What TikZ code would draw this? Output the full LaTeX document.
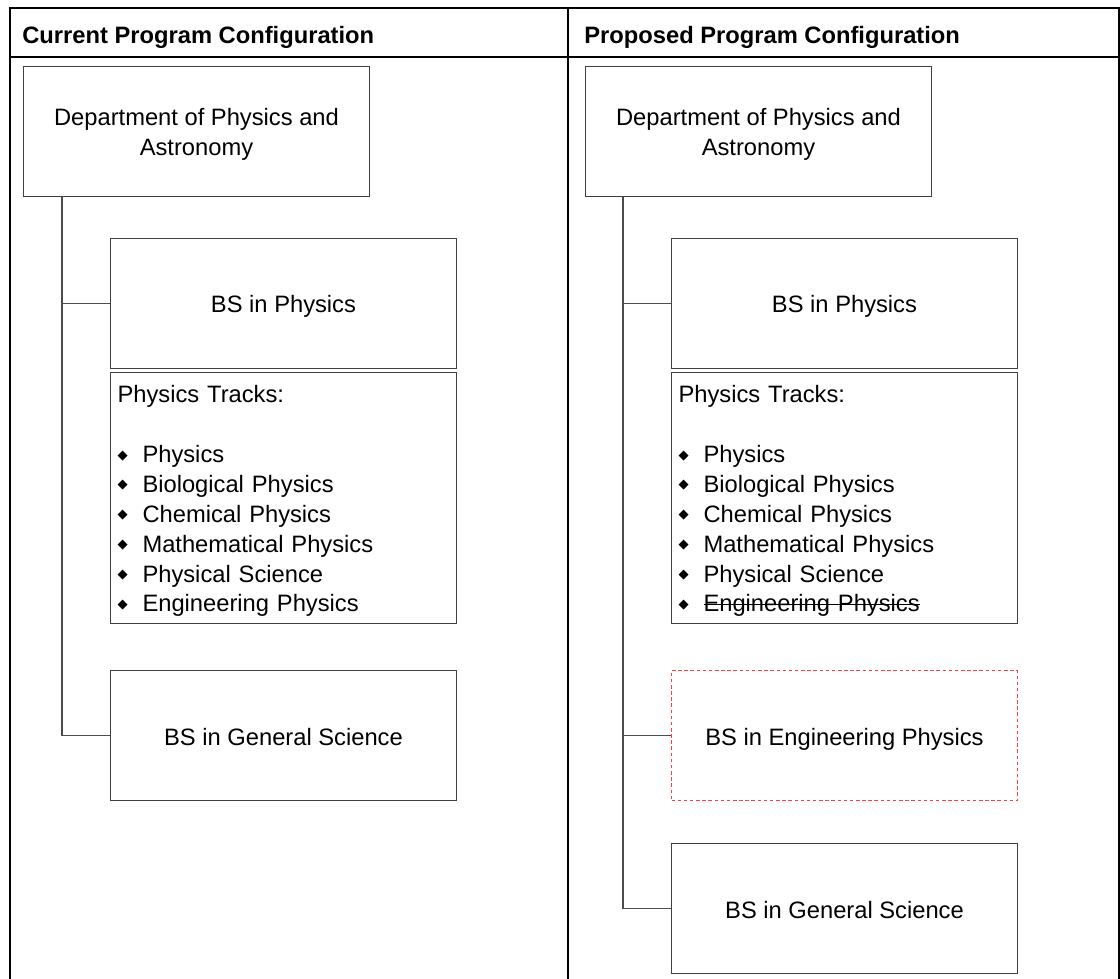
\documentclass[tikz,border=0pt]{standalone}
\usepackage{fontspec}
\setmainfont{Liberation Sans}
\newfontfamily\symfont{DejaVu Sans}
\usetikzlibrary{positioning}
\newcommand{\bul}{\makebox[0.5cm][l]{\raisebox{2pt}{\symfont\fontsize{7.5}{7.5}\selectfont ◆}}}
\newcommand{\strk}[1]{\setbox0\hbox{#1}\rlap{\rule[0.3em]{\wd0}{0.6pt}}\box0}
\newcommand{\up}{\rule{0pt}{13.3pt}}
\begin{document}
\begin{tikzpicture}[x=0.02cm, y=-0.02cm,
	box/.style={draw=black!75, line width=0.6pt, minimum width=6.92cm, minimum height=2.6cm, align=center, anchor=north west, font=\fontsize{13.5}{17}\selectfont},
	one/.style={box, text height=13pt, text depth=2.2pt},
	tracks/.style={box, minimum height=5.02cm, text width=6.64cm, align=left, inner sep=0.14cm},
	newbox/.style={one, draw=red!75, dash pattern=on 2pt off 1.5pt},
	frame/.style={line width=1.1pt},
	head/.style={anchor=west, inner sep=0pt, font=\fontsize{13.5}{17}\selectfont\bfseries},
	link/.style={draw=black!70, line width=0.6pt}]
	\useasboundingbox (0,0) rectangle (1120,979);
	% table
	\draw[frame] (10,990) -- (10,8) -- (1119,8) -- (1119,990);
	\draw[frame] (10,57) -- (1119,57);
	\draw[frame] (568,8) -- (568,990);
	\node[head] (hcur) at (22,37) {Current Program Configuration};
	\node[head] (hprop) at (584,37) {Proposed Program Configuration};
	% current
	\node[box] (dept1) at (23,66) {\up Department of Physics and\\Astronomy};
	\node[one] (bsp1) at (110,238) {BS in Physics};
	\node[tracks] (trk1) at (110,372) {\up Physics Tracks:\\[17pt]
		\bul Physics\\
		\bul Biological Physics\\
		\bul Chemical Physics\\
		\bul Mathematical Physics\\
		\bul Physical Science\\
		\bul Engineering Physics};
	\node[one] (gs1) at (110,670) {BS in General Science};
	\coordinate (t1) at ([xshift=0.78cm]dept1.south west);
	\draw[link] (t1) |- (gs1.west);
	\draw[link] (t1 |- bsp1.west) -- (bsp1.west);
	% proposed
	\node[box] (dept2) at (585,66) {\up Department of Physics and\\Astronomy};
	\node[one] (bsp2) at (671,238) {BS in Physics};
	\node[tracks] (trk2) at (671,372) {\up Physics Tracks:\\[17pt]
		\bul Physics\\
		\bul Biological Physics\\
		\bul Chemical Physics\\
		\bul Mathematical Physics\\
		\bul Physical Science\\
		\bul \strk{Engineering Physics}};
	\node[newbox] (bse2) at (671,670) {BS in Engineering Physics};
	\node[one] (gs2) at (671,843) {BS in General Science};
	\coordinate (t2) at ([xshift=0.76cm]dept2.south west);
	\draw[link] (t2) |- (gs2.west);
	\draw[link] (t2 |- bsp2.west) -- (bsp2.west);
	\draw[link] (t2 |- bse2.west) -- (bse2.west);
\end{tikzpicture}
\end{document}
